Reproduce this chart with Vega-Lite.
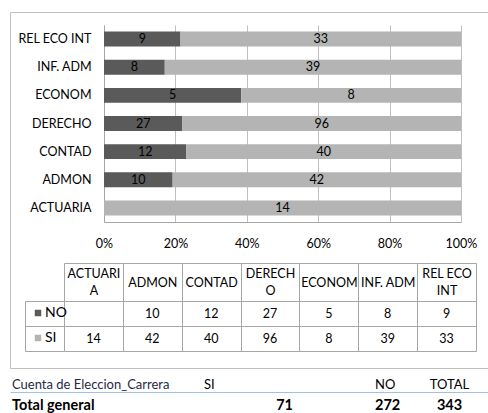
{
  "$schema": "https://vega.github.io/schema/vega-lite/v6.json",
  "width": 478,
  "height": 356,
  "autosize": "none",
  "padding": {"left": 10, "top": 12, "right": 0, "bottom": 45},
  "background": "white",
  "config": {
    "font": "Lato",
    "view": {"stroke": "#bfbfbf", "strokeWidth": 1},
    "axis": {"labelFont": "Lato", "labelColor": "#000000", "labelFontSize": 12.5, "title": null},
    "text": {"font": "Lato", "fontSize": 12.5, "color": "#000000"}
  },
  "datasets": {
    "conteo": [
      {"carrera": "ACTUARIA", "respuesta": "SI", "n": 14},
      {"carrera": "ADMON", "respuesta": "NO", "n": 10},
      {"carrera": "ADMON", "respuesta": "SI", "n": 42},
      {"carrera": "CONTAD", "respuesta": "NO", "n": 12},
      {"carrera": "CONTAD", "respuesta": "SI", "n": 40},
      {"carrera": "DERECHO", "respuesta": "NO", "n": 27},
      {"carrera": "DERECHO", "respuesta": "SI", "n": 96},
      {"carrera": "ECONOM", "respuesta": "NO", "n": 5},
      {"carrera": "ECONOM", "respuesta": "SI", "n": 8},
      {"carrera": "INF. ADM", "respuesta": "NO", "n": 8},
      {"carrera": "INF. ADM", "respuesta": "SI", "n": 39},
      {"carrera": "REL ECO INT", "respuesta": "NO", "n": 9},
      {"carrera": "REL ECO INT", "respuesta": "SI", "n": 33}
    ],
    "pivote": [
      {"campo": "Cuenta de Eleccion_Carrera", "total": "Total general"},
      {"campo": "SI", "total": 71},
      {"campo": "NO", "total": 272},
      {"campo": "TOTAL", "total": 343}
    ]
  },
  "layer": [
    {
      "data": {"name": "conteo"},
      "encoding": {
        "y": {
          "field": "carrera", "type": "nominal",
          "sort": ["REL ECO INT", "INF. ADM", "ECONOM", "DERECHO", "CONTAD", "ADMON", "ACTUARIA"],
          "scale": {"range": [13, 210], "paddingInner": 0.47, "paddingOuter": 0.235},
          "axis": {"orient": "left", "offset": -94, "ticks": false, "labelPadding": 13, "domainColor": "#a6a6a6", "title": null}
        }
      },
      "layer": [
        {
          "mark": {"type": "bar"},
          "encoding": {
            "x": {
              "field": "n", "type": "quantitative", "stack": "normalize",
              "scale": {"domain": [0, 1], "range": [94, 451], "nice": false},
              "axis": {"orient": "top", "grid": true, "gridColor": "#bfbfbf", "labels": false, "ticks": false, "domain": false, "values": [0, 0.2, 0.4, 0.6, 0.8, 1], "title": null}
            },
            "color": {
              "field": "respuesta", "type": "nominal",
              "scale": {"domain": ["NO", "SI"], "range": ["#5a5a5a", "#b4b4b4"]},
              "legend": {"orient": "none", "legendX": 21, "legendY": 294, "direction": "vertical", "title": null, "symbolType": "square", "symbolSize": 42, "symbolStrokeWidth": 0, "labelFontSize": 14, "labelFont": "Lato", "labelColor": "#000000", "labelOffset": 0, "rowPadding": 11, "padding": 0}
            },
            "order": {"field": "respuesta", "type": "ordinal", "sort": "ascending"}
          }
        },
        {
          "transform": [
            {"stack": "n", "groupby": ["carrera"], "offset": "normalize", "sort": [{"field": "respuesta", "order": "ascending"}], "as": ["x0", "x1"]},
            {"fold": ["x0", "x1"], "as": ["borde", "pos"]},
            {"aggregate": [{"op": "mean", "field": "pos", "as": "medio"}], "groupby": ["carrera", "respuesta", "n"]}
          ],
          "mark": {"type": "text"},
          "encoding": {
            "x": {
              "field": "medio", "type": "quantitative",
              "scale": {"domain": [0, 1], "range": [94, 451], "nice": false},
              "axis": {"orient": "bottom", "offset": -146, "format": "%", "values": [0, 0.2, 0.4, 0.6, 0.8, 1], "grid": false, "ticks": false, "domainColor": "#a6a6a6", "labelPadding": 15, "labelFlush": false, "labelBound": false, "title": null}
            },
            "text": {"field": "n", "type": "quantitative"}
          }
        }
      ],
      "resolve": {"axis": {"x": "independent"}}
    },
    {
      "data": {"name": "conteo"},
      "mark": {"type": "text"},
      "encoding": {
        "x": {
          "field": "carrera", "type": "nominal", "sort": "ascending",
          "scale": {"range": [54, 466], "paddingInner": 0, "paddingOuter": 0},
          "axis": {
            "orient": "top", "offset": -251, "tickBand": "extent", "tickSize": -38, "tickColor": "#a6a6a6",
            "domainColor": "#a6a6a6", "grid": true, "gridColor": "#a6a6a6", "labelAngle": 0,
            "labelBaseline": "middle", "labelAlign": "center", "labelLineHeight": 17,
            "labelPadding": {"condition": {"test": "datum.value == 'ACTUARIA' || datum.value == 'DERECHO' || datum.value == 'REL ECO INT'", "value": 28}, "value": 19},
            "labelExpr": "datum.value == 'ACTUARIA' ? ['ACTUARI', 'A'] : datum.value == 'DERECHO' ? ['DERECH', 'O'] : datum.value == 'REL ECO INT' ? ['REL ECO', 'INT'] : datum.value",
            "title": null
          }
        },
        "y": {
          "field": "respuesta", "type": "nominal",
          "scale": {"domain": ["NO", "SI"], "range": [289, 339], "paddingInner": 0, "paddingOuter": 0},
          "axis": {"orient": "left", "offset": -15, "tickBand": "extent", "tickSize": -39, "tickColor": "#a6a6a6", "domainColor": "#a6a6a6", "grid": true, "gridColor": "#a6a6a6", "labels": false, "title": null}
        },
        "text": {"field": "n", "type": "quantitative"}
      }
    },
    {
      "data": {"name": "pivote"},
      "layer": [
        {
          "transform": [{"filter": "datum.campo == 'Cuenta de Eleccion_Carrera'"}],
          "mark": {"type": "text", "align": "left", "dx": 2, "fontSize": 13, "color": "#1f2a44"},
          "encoding": {
            "x": {"field": "campo", "type": "nominal", "scale": {"type": "point", "range": [0, 478], "padding": 0, "align": 0},
              "axis": {"orient": "top", "offset": -380, "labels": false, "ticks": false, "grid": false, "domainColor": "#9dc3e6", "title": null}},
            "y": {"datum": "encabezado", "type": "nominal", "scale": {"domain": ["encabezado", "total"], "range": [362, 404], "paddingInner": 0, "paddingOuter": 0}, "axis": null},
            "text": {"field": "campo"}
          }
        },
        {
          "transform": [{"filter": "datum.campo == 'Cuenta de Eleccion_Carrera'"}],
          "mark": {"type": "text", "align": "left", "dx": 2, "fontSize": 14.5, "fontWeight": "bold"},
          "encoding": {
            "x": {"field": "campo", "type": "nominal", "scale": {"type": "point", "range": [0, 478], "padding": 0, "align": 0}, "axis": null},
            "y": {"datum": "total", "type": "nominal", "scale": {"domain": ["encabezado", "total"], "range": [362, 404], "paddingInner": 0, "paddingOuter": 0}, "axis": null},
            "text": {"field": "total"}
          }
        },
        {
          "transform": [{"filter": "datum.campo == 'SI'"}],
          "mark": {"type": "text", "align": "left", "dx": 4, "fontSize": 13},
          "encoding": {
            "x": {"field": "campo", "type": "nominal", "scale": {"type": "point", "range": [190, 287], "padding": 0, "align": 0}, "axis": null},
            "y": {"datum": "encabezado", "type": "nominal", "scale": {"domain": ["encabezado", "total"], "range": [362, 404], "paddingInner": 0, "paddingOuter": 0}, "axis": null},
            "text": {"field": "campo"}
          }
        },
        {
          "transform": [{"filter": "datum.campo == 'SI'"}],
          "mark": {"type": "text", "align": "right", "dx": -4, "fontSize": 14.5, "fontWeight": "bold"},
          "encoding": {
            "x": {"field": "campo", "type": "nominal", "scale": {"type": "point", "range": [190, 287], "padding": 0, "align": 1}, "axis": null},
            "y": {"datum": "total", "type": "nominal", "scale": {"domain": ["encabezado", "total"], "range": [362, 404], "paddingInner": 0, "paddingOuter": 0}, "axis": null},
            "text": {"field": "total"}
          }
        },
        {
          "transform": [{"filter": "datum.campo == 'NO'"}],
          "mark": {"type": "text", "align": "left", "dx": 3, "fontSize": 13},
          "encoding": {
            "x": {"field": "campo", "type": "nominal", "scale": {"type": "point", "range": [362, 390], "padding": 0, "align": 0}, "axis": null},
            "y": {"datum": "encabezado", "type": "nominal", "scale": {"domain": ["encabezado", "total"], "range": [362, 404], "paddingInner": 0, "paddingOuter": 0}, "axis": null},
            "text": {"field": "campo"}
          }
        },
        {
          "transform": [{"filter": "datum.campo == 'NO'"}],
          "mark": {"type": "text", "align": "left", "dx": 3, "fontSize": 14.5, "fontWeight": "bold"},
          "encoding": {
            "x": {"field": "campo", "type": "nominal", "scale": {"type": "point", "range": [362, 390], "padding": 0, "align": 0}, "axis": null},
            "y": {"datum": "total", "type": "nominal", "scale": {"domain": ["encabezado", "total"], "range": [362, 404], "paddingInner": 0, "paddingOuter": 0}, "axis": null},
            "text": {"field": "total"}
          }
        },
        {
          "transform": [{"filter": "datum.campo == 'TOTAL'"}],
          "mark": {"type": "text", "align": "center", "fontSize": 13},
          "encoding": {
            "x": {"field": "campo", "type": "nominal", "scale": {"type": "point", "range": [419, 460], "padding": 0, "align": 0.5}, "axis": null},
            "y": {"datum": "encabezado", "type": "nominal", "scale": {"domain": ["encabezado", "total"], "range": [362, 404], "paddingInner": 0, "paddingOuter": 0}, "axis": null},
            "text": {"field": "campo"}
          }
        },
        {
          "transform": [{"filter": "datum.campo == 'TOTAL'"}],
          "mark": {"type": "text", "align": "center", "fontSize": 14.5, "fontWeight": "bold"},
          "encoding": {
            "x": {"field": "campo", "type": "nominal", "scale": {"type": "point", "range": [419, 460], "padding": 0, "align": 0.5}, "axis": null},
            "y": {"datum": "total", "type": "nominal", "scale": {"domain": ["encabezado", "total"], "range": [362, 404], "paddingInner": 0, "paddingOuter": 0}, "axis": null},
            "text": {"field": "total"}
          }
        }
      ],
      "resolve": {"scale": {"x": "independent"}, "axis": {"x": "independent"}}
    }
  ],
  "resolve": {
    "scale": {"x": "independent", "y": "independent"},
    "axis": {"x": "independent", "y": "independent"}
  }
}
